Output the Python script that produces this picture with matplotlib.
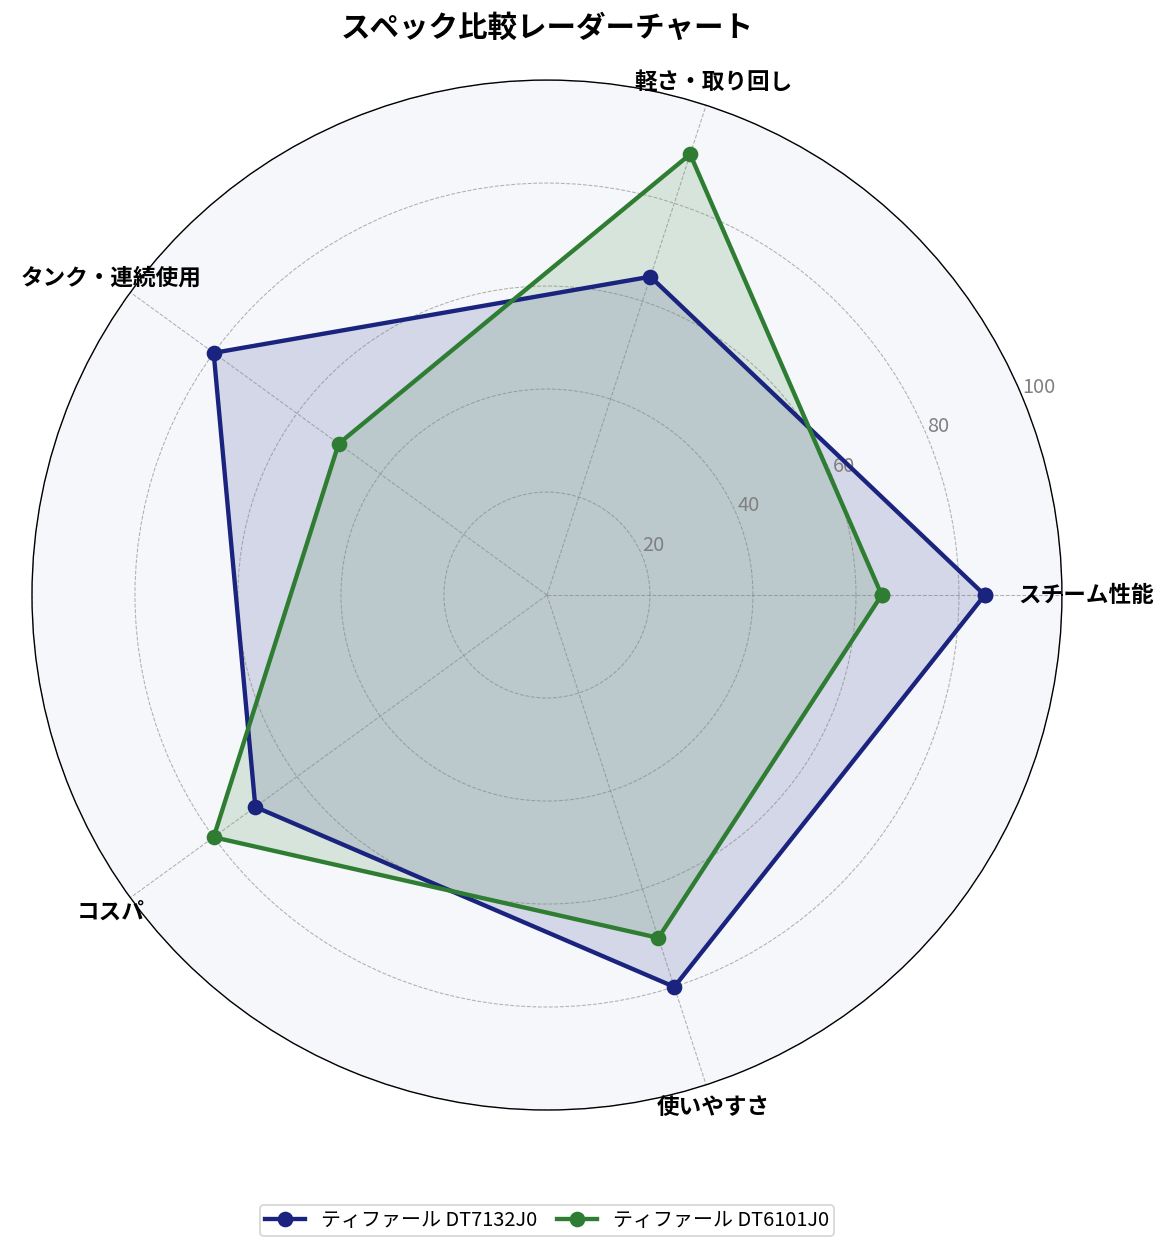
import numpy as np
import matplotlib.pyplot as plt

plt.rcParams['font.family'] = ['Noto Sans CJK JP', 'DejaVu Sans']

categories = ['スチーム性能', '軽さ・取り回し', 'タンク・連続使用', 'コスパ', '使いやすさ']
model_a = [85, 65, 80, 70, 80]
model_b = [65, 90, 50, 80, 70]
labels = ['ティファール DT7132J0', 'ティファール DT6101J0']
colors = ['#1a237e', '#2e7d32']

n = len(categories)
angles = np.linspace(0, 2 * np.pi, n, endpoint=False).tolist()
angles += angles[:1]

fig = plt.figure(figsize=(9.4, 10.008), dpi=125)
ax = fig.add_axes([0.0272, 0.1127, 0.8766, 0.8233], polar=True)
ax.set_facecolor('#f5f7fa')

for vals, lab, col in zip([model_a, model_b], labels, colors):
    v = vals + vals[:1]
    ax.plot(angles, v, color=col, linewidth=2.5, marker='o', markersize=8, label=lab)
    ax.fill(angles, v, color=col, alpha=0.15)

ax.set_ylim(0, 100)
ax.set_yticks([20, 40, 60, 80, 100])
ax.set_yticklabels(['20', '40', '60', '80', '100'], color='gray', fontsize=11.5)
ax.set_rlabel_position(22.5)
ax.set_xticks(angles[:-1])
ax.set_xticklabels(categories, fontsize=13, fontweight='bold')
ax.grid(True, color='gray', linestyle='--', linewidth=0.6, alpha=0.6)
ax.spines['polar'].set_color('black')

ax.set_title('スペック比較レーダーチャート', fontsize=17, fontweight='bold', pad=25)
fig.legend(loc='lower center', bbox_to_anchor=(0.4655, 0.004), ncol=2,
           fontsize=11.5, columnspacing=1.0, borderpad=0.25)

fig.savefig('out.png', dpi=125)
